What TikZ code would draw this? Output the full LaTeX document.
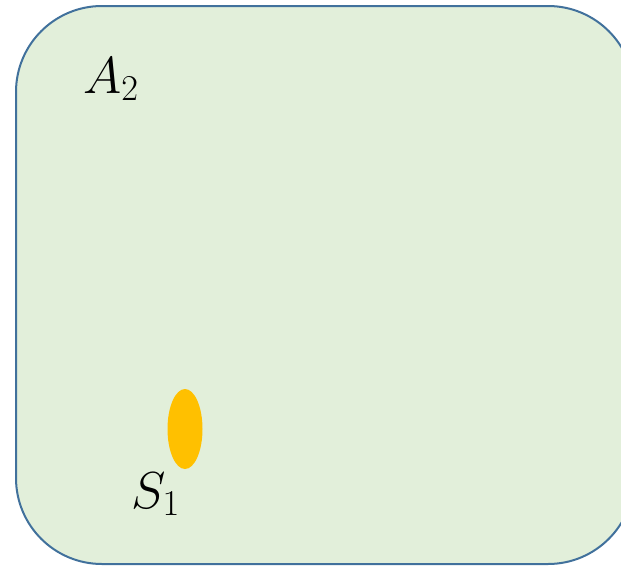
\documentclass[tikz,border=0pt]{standalone}
\usepackage{fix-cm}
\usetikzlibrary{shapes.geometric}
\definecolor{areafill}{HTML}{E2EFDA}
\definecolor{areadraw}{HTML}{41719C}
\definecolor{setfill}{HTML}{FFC000}
\begin{document}
\begin{tikzpicture}[x=1pt,y=-1pt,
  lbl/.style={inner sep=0pt,anchor=base west,font=\fontsize{52}{60}\selectfont}]
\useasboundingbox (0,0) rectangle (621,565);
\clip (0,0) rectangle (621,565);
\node[draw=areadraw,fill=areafill,line width=2pt,rounded corners=86pt,
  minimum width=618pt,minimum height=558pt,inner sep=0pt,anchor=north west] (area) at (15,5) {};
\node[fill=setfill,ellipse,minimum width=35pt,minimum height=80pt,inner sep=0pt] (s1set) at (185,429) {};
\node[lbl] (a2) at (83,93) {$A_2$};
\node[lbl] (s1) at (131,508) {$S_1$};
\end{tikzpicture}
\end{document}
